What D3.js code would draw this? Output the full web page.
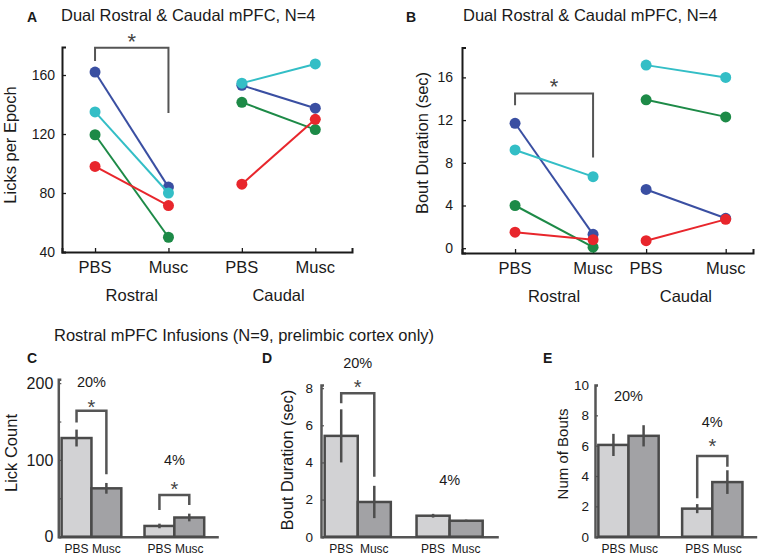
<!DOCTYPE html>
<meta charset="utf-8">
<style>
  body { margin: 0; background: #fff; }
  text { font-family: "Liberation Sans", Arial, sans-serif; fill: #1a1a1a; }
  .letter { font-weight: bold; font-size: 14px; }
</style>
<svg width="761" height="560"></svg>
<script src="https://d3js.org/d3.v7.min.js"></script>
<script>
var svg = d3.select("svg");

// ---- data ----
var conditions = ["PBS", "Musc"];
var regions = ["Rostral", "Caudal"];
var animalColors = ["#3a4fa2", "#1d8a47", "#33bec6", "#e8262c"];

// per animal: [rostral PBS, rostral Musc, caudal PBS, caudal Musc]
var licksBlue  = [162, 84, 153, 137.5];
var licksGreen = [119.5, 50, 141.5, 123];
var licksCyan  = [135, 80, 154.5, 167.5];
var licksRed   = [98, 71.5, 86, 130];

var boutBlue  = [11.7, 1.3, 5.5, 2.8];
var boutGreen = [4.0, 0.1, 13.9, 12.3];
var boutCyan  = [9.2, 6.7, 17.15, 16.0];
var boutRed   = [1.5, 0.8, 0.7, 2.7];

var concentrations = ["20%", "4%"];
var lickMean = [[128.5, 63], [14, 25]];
var lickErr  = [[11, 7], [3, 5]];
var boutMean = [[5.43, 1.87], [1.13, 0.86]];
var boutErr  = [[1.43, 0.87], [0.1, 0.06]];
var numMean  = [[6.05, 6.65], [1.85, 3.6]];
var numErr   = [[0.73, 0.7], [0.3, 0.78]];

// ---- top line panels ----
function linePanel(opt) {
  var g = svg.append("g");
  var x = d3.scaleLinear().domain(opt.xDomain).range([opt.left, opt.right]);
  var y = d3.scaleLinear().domain(opt.yDomain).range([opt.bottom, opt.top]);

  // axes (ticks inside, MATLAB style)
  var ya = g.append("g").attr("transform", "translate(" + opt.left + ",0)")
    .call(d3.axisRight(y).tickValues(opt.yTicks).tickSize(4).tickFormat(""));
  var xa = g.append("g").attr("transform", "translate(0," + opt.bottom + ")")
    .call(d3.axisTop(x).tickValues(opt.pos).tickSize(4).tickFormat(""));
  [ya, xa].forEach(function (a) {
    a.select(".domain").attr("stroke", "#1a1a1a").attr("stroke-width", 2);
    a.selectAll(".tick line").attr("stroke", "#1a1a1a").attr("stroke-width", 1.3);
  });
  g.selectAll(".ylab").data(opt.yTicks).enter().append("text")
    .attr("x", opt.left - opt.tickGap).attr("y", function (d) { return y(d) + 5; })
    .attr("text-anchor", "end").style("font-size", "14px").text(function (d) { return d; });

  // category labels
  var cats = [0, 1, 2, 3];
  g.selectAll(".xl").data(cats).enter().append("text")
    .attr("x", function (i) { return x(opt.pos[i]); }).attr("y", opt.bottom + 21)
    .attr("text-anchor", "middle").style("font-size", "16.5px")
    .text(function (i) { return conditions[i % 2]; });
  g.selectAll(".rl").data(regions).enter().append("text")
    .attr("x", function (d, i) { return (x(opt.pos[2 * i]) + x(opt.pos[2 * i + 1])) / 2; })
    .attr("y", opt.bottom + 49)
    .attr("text-anchor", "middle").style("font-size", "16.5px").text(function (d) { return d; });

  // y label
  g.append("text").attr("transform", "translate(" + opt.ylabX + "," + opt.ylabY + ") rotate(-90)")
    .attr("text-anchor", "middle").style("font-size", "16.5px").text(opt.ylabel);

  // title + letter
  g.append("text").attr("class", "letter").attr("x", opt.letterX).attr("y", 22).text(opt.letter);
  g.append("text").attr("x", opt.titleX).attr("y", 21).style("font-size", "16.5px")
    .text("Dual Rostral & Caudal mPFC, N=4");

  // significance bracket
  var b = opt.bracket;
  g.append("path")
    .attr("d", "M" + x(opt.pos[0]) + "," + y(b[1]) + "V" + y(b[0]) + "H" + x(opt.pos[1]) + "V" + y(b[2]))
    .attr("fill", "none").attr("stroke", "#555").attr("stroke-width", 2);
  g.append("text").attr("x", (x(opt.pos[0]) + x(opt.pos[1])) / 2).attr("y", y(b[3]) + 12)
    .attr("text-anchor", "middle").style("font-size", "22px").style("fill", "#444").text("*");

  // animals
  opt.series.forEach(function (vals, k) {
    var col = animalColors[k];
    [0, 2].forEach(function (s) {
      g.append("line")
        .attr("x1", x(opt.pos[s])).attr("y1", y(vals[s]))
        .attr("x2", x(opt.pos[s + 1])).attr("y2", y(vals[s + 1]))
        .attr("stroke", col).attr("stroke-width", 2);
    });
    g.selectAll(null).data(vals).enter().append("circle")
      .attr("cx", function (d, i) { return x(opt.pos[i]); })
      .attr("cy", function (d) { return y(d); })
      .attr("r", 5.5).attr("fill", col);
  });
}

linePanel({
  left: 62, right: 352, top: 47, bottom: 252,
  xDomain: [0.55, 4.5], pos: [1, 2, 3, 4],
  yDomain: [40, 179], yTicks: [40, 80, 120, 160], tickGap: 7,
  ylabel: "Licks per Epoch", ylabX: 16, ylabY: 145,
  letter: "A", letterX: 27, titleX: 61,
  bracket: [178.5, 169.5, 134.2, 186],
  series: [licksBlue, licksGreen, licksCyan, licksRed]
});

linePanel({
  left: 462, right: 753, top: 47.5, bottom: 253,
  xDomain: [0.32, 4.05], pos: [1, 2, 2.68, 3.7],
  yDomain: [-0.45, 18.8], yTicks: [0, 4, 8, 12, 16], tickGap: 9,
  ylabel: "Bout Duration (sec)", ylabX: 428, ylabY: 143,
  letter: "B", letterX: 406, titleX: 463,
  bracket: [14.5, 13.4, 8.5, 15.6],
  series: [boutBlue, boutGreen, boutCyan, boutRed]
});

// ---- bottom bar panels ----
svg.append("text").attr("x", 54).attr("y", 341).style("font-size", "16.5px")
  .text("Rostral mPFC Infusions (N=9, prelimbic cortex only)");

function barPanel(opt) {
  var g = svg.append("g");
  var x = d3.scaleLinear().domain([0.6, 2.53]).range([opt.left, opt.right]);
  var y = d3.scaleLinear().domain(opt.yDomain).range([536.7, opt.top]);
  var bw = 0.36;

  var ya = g.append("g").attr("transform", "translate(" + opt.left + ",0)")
    .call(d3.axisRight(y).tickValues(opt.yTicks).tickSize(3).tickFormat(""));
  var xa = g.append("g").attr("transform", "translate(0,536.7)")
    .call(d3.axisTop(x).tickValues([]).tickSize(0));
  [ya, xa].forEach(function (a) {
    a.select(".domain").attr("stroke", "#555").attr("stroke-width", 2.5);
    a.selectAll(".tick line").attr("stroke", "#555").attr("stroke-width", 1.2);
  });
  g.selectAll(".yl").data(opt.yLabels).enter().append("text")
    .attr("x", opt.left - opt.tickGap).attr("y", function (d) { return y(d) + opt.tickFont * 0.36; })
    .attr("text-anchor", "end").style("font-size", opt.tickFont + "px").text(function (d) { return d; });

  g.append("text").attr("transform", "translate(" + opt.ylabX + "," + opt.ylabY + ") rotate(-90)")
    .attr("text-anchor", "middle").style("font-size", opt.ylabFont + "px").text(opt.ylabel);
  g.append("text").attr("class", "letter").attr("x", opt.letterX).attr("y", 363).text(opt.letter);

  opt.mean.forEach(function (pair, gi) {
    pair.forEach(function (v, ci) {
      var cx = (gi + 1) + (ci === 0 ? -bw / 2 : bw / 2);
      g.append("rect")
        .attr("x", x(cx - bw / 2)).attr("width", x(cx + bw / 2) - x(cx - bw / 2))
        .attr("y", y(v)).attr("height", y(0) - y(v))
        .attr("fill", ci === 0 ? "#d2d2d4" : "#a2a2a5")
        .attr("stroke", "#4a4a4a").attr("stroke-width", 2.5);
      var e = opt.err[gi][ci];
      g.append("line").attr("x1", x(cx)).attr("x2", x(cx))
        .attr("y1", y(v - e)).attr("y2", y(v + e))
        .attr("stroke", "#4d4d4d").attr("stroke-width", 2.5);
      g.append("text").attr("x", x(cx)).attr("y", 552.5).attr("text-anchor", "middle")
        .style("font-size", "12px").text(conditions[ci]);
    });
    var lp = opt.pct[gi];
    g.append("text").attr("x", x(gi + 1)).attr("y", y(lp) + 5.5).attr("text-anchor", "middle")
      .style("font-size", "14.5px").text(concentrations[gi]);
  });

  opt.brackets.forEach(function (b) {
    var gi = b[0];
    var x0 = x(gi + 1 - bw / 2), x1 = x(gi + 1 + bw / 2);
    g.append("path")
      .attr("d", "M" + x0 + "," + y(b[2]) + "V" + y(b[1]) + "H" + x1 + "V" + y(b[3]))
      .attr("fill", "none").attr("stroke", "#555").attr("stroke-width", 2.5);
    g.append("text").attr("x", (x0 + x1) / 2).attr("y", y(b[4]) + 11)
      .attr("text-anchor", "middle").style("font-size", "20px").style("fill", "#444").text("*");
  });
}

barPanel({
  left: 58.3, right: 218.3, top: 379.3, yDomain: [0, 205],
  yTicks: [0, 50, 100, 150, 200], yLabels: [0, 100, 200], tickGap: 5, tickFont: 16,
  ylabel: "Lick Count", ylabX: 17, ylabY: 453, ylabFont: 16.5,
  letter: "C", letterX: 27,
  mean: lickMean, err: lickErr, pct: [202, 100],
  brackets: [[0, 163.9, 148.6, 81.4, 174], [1, 54.4, 34.8, 41.3, 67.4]]
});

barPanel({
  left: 321, right: 498.3, top: 385, yDomain: [0, 8.17],
  yTicks: [0, 2, 4, 6, 8], yLabels: [0, 2, 4, 6, 8], tickGap: 8, tickFont: 13.5,
  ylabel: "Bout Duration (sec)", ylabX: 293, ylabY: 460, ylabFont: 16.3,
  letter: "D", letterX: 262,
  mean: boutMean, err: boutErr, pct: [9.37, 3.06],
  brackets: [[0, 7.73, 7.19, 3.23, 8.28]]
});

barPanel({
  left: 595, right: 756.7, top: 385, yDomain: [0, 10],
  yTicks: [0, 2, 4, 6, 8, 10], yLabels: [0, 2, 4, 6, 8, 10], tickGap: 6, tickFont: 13.5,
  ylabel: "Num of Bouts", ylabX: 568, ylabY: 454, ylabFont: 15,
  letter: "E", letterX: 543,
  mean: numMean, err: numErr, pct: [9.34, 7.58],
  brackets: [[1, 5.32, 2.53, 4.61, 6.26]]
});
</script>
